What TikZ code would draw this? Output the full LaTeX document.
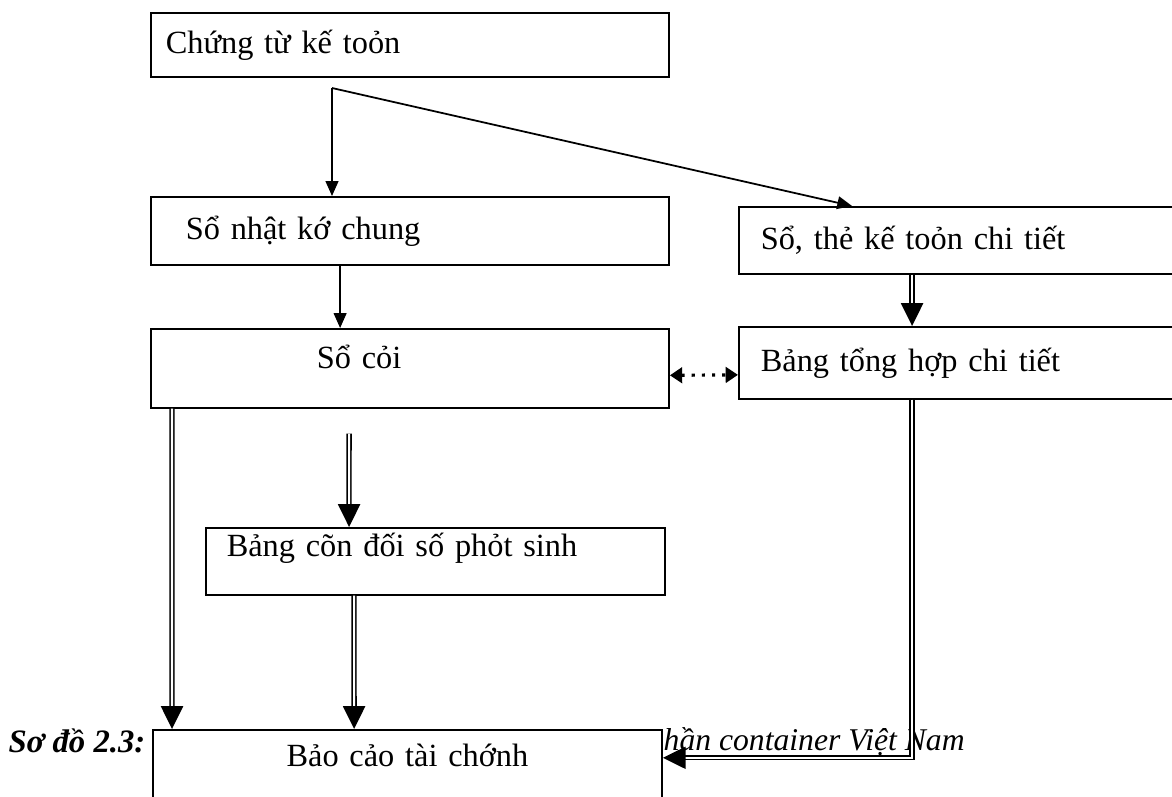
\documentclass[tikz,border=0pt]{standalone}
\usepackage{fontspec}
\setmainfont{Liberation Serif}
\usetikzlibrary{arrows.meta}

\begin{document}
\begin{tikzpicture}[
x=0.01cm, y=-0.01cm,
box/.style={draw,
rectangle,
line width=0.45pt,
fill=white,
anchor=north west,
inner ysep=0pt,
align=left,
font=\fontsize{9.2}{11}\selectfont},
arrow/.style={-{Triangle[length=4.2pt, width=3.6pt]}, line width=0.5pt},
dbl/.style={double, double distance=0.6pt, line width=0.45pt, -{Triangle[length=6.5pt, width=6.3pt]}},
dots/.style={dotted, line width=0.9pt, {Triangle[length=3.5pt, width=4.4pt]}-{Triangle[length=3.5pt, width=4.4pt]}}
]
\clip (0,0) rectangle (1172,796);

% caption (partly hidden by the last box)
\node[anchor=north west, inner sep=0pt, font=\fontsize{9.3}{11}\selectfont\bfseries\itshape] (capl) at (8,728) {Sơ đồ 2.3:};
\node[anchor=base west, inner sep=0pt, font=\fontsize{9}{11}\selectfont\itshape] (capr) at (663,750) {hần container Việt Nam};

\node[box, minimum width=5.18cm, minimum height=0.64cm, inner xsep=0.15cm, text width=4.88cm] (ctu) at (150,12) {Chứng từ kế toỏn};
\node[box, minimum width=5.18cm, minimum height=0.68cm, inner xsep=0.35cm, text width=4.48cm] (snk) at (150,196) {Sổ nhật kớ chung};
\node[box, minimum width=4.6cm, minimum height=0.67cm, inner xsep=0.22cm, text width=4.16cm] (ctiet) at (738,206) {Sổ, thẻ kế toỏn chi tiết};
\node[box, minimum width=4.6cm, minimum height=0.72cm, inner xsep=0.22cm, text width=4.16cm] (bthct) at (738,326) {Bảng tổng hợp chi tiết};
\node[box, minimum width=5.18cm, minimum height=0.79cm, inner xsep=1.66cm, text width=1.86cm, text depth=0.24cm] (socai) at (150,328) {Sổ cỏi};
\node[box, minimum width=4.59cm, minimum height=0.67cm, inner xsep=0.21cm, text width=4.17cm, text depth=0.34cm] (bcd) at (205,527) {Bảng cõn đối số phỏt sinh};
\node[box, minimum width=5.09cm, minimum height=0.8cm, inner xsep=0.05cm, text width=4.99cm, text depth=0.3cm, align=center] (bctc) at (152,729) {Bảo cảo tài chớnh};

\coordinate (fork) at (332,88);

\draw[arrow] (fork) -- (fork |- snk.north);
\draw[arrow] (fork) -- ([xshift=1.14cm]ctiet.north west);
\draw[arrow] ([xshift=1.9cm]snk.south west) -- ([xshift=1.9cm]socai.north west);
\draw[dbl] ([xshift=1.74cm]ctiet.south west) -- ([xshift=1.74cm]bthct.north west);
\draw[dots] ([yshift=-0.07cm]socai.east) -- ([yshift=-0.12cm]bthct.west);
\draw[dbl] ([xshift=1.99cm, yshift=-0.25cm]socai.south west) -- ([xshift=1.44cm]bcd.north west);
\draw[dbl] ([xshift=0.22cm]socai.south west) -- ([xshift=0.2cm]bctc.north west);
\draw[dbl] ([xshift=1.49cm]bcd.south west) -- ([xshift=2.02cm]bctc.north west);
\draw[dbl] ([xshift=1.74cm]bthct.south west) |- ([yshift=0.12cm]bctc.east);

\end{tikzpicture}
\end{document}
